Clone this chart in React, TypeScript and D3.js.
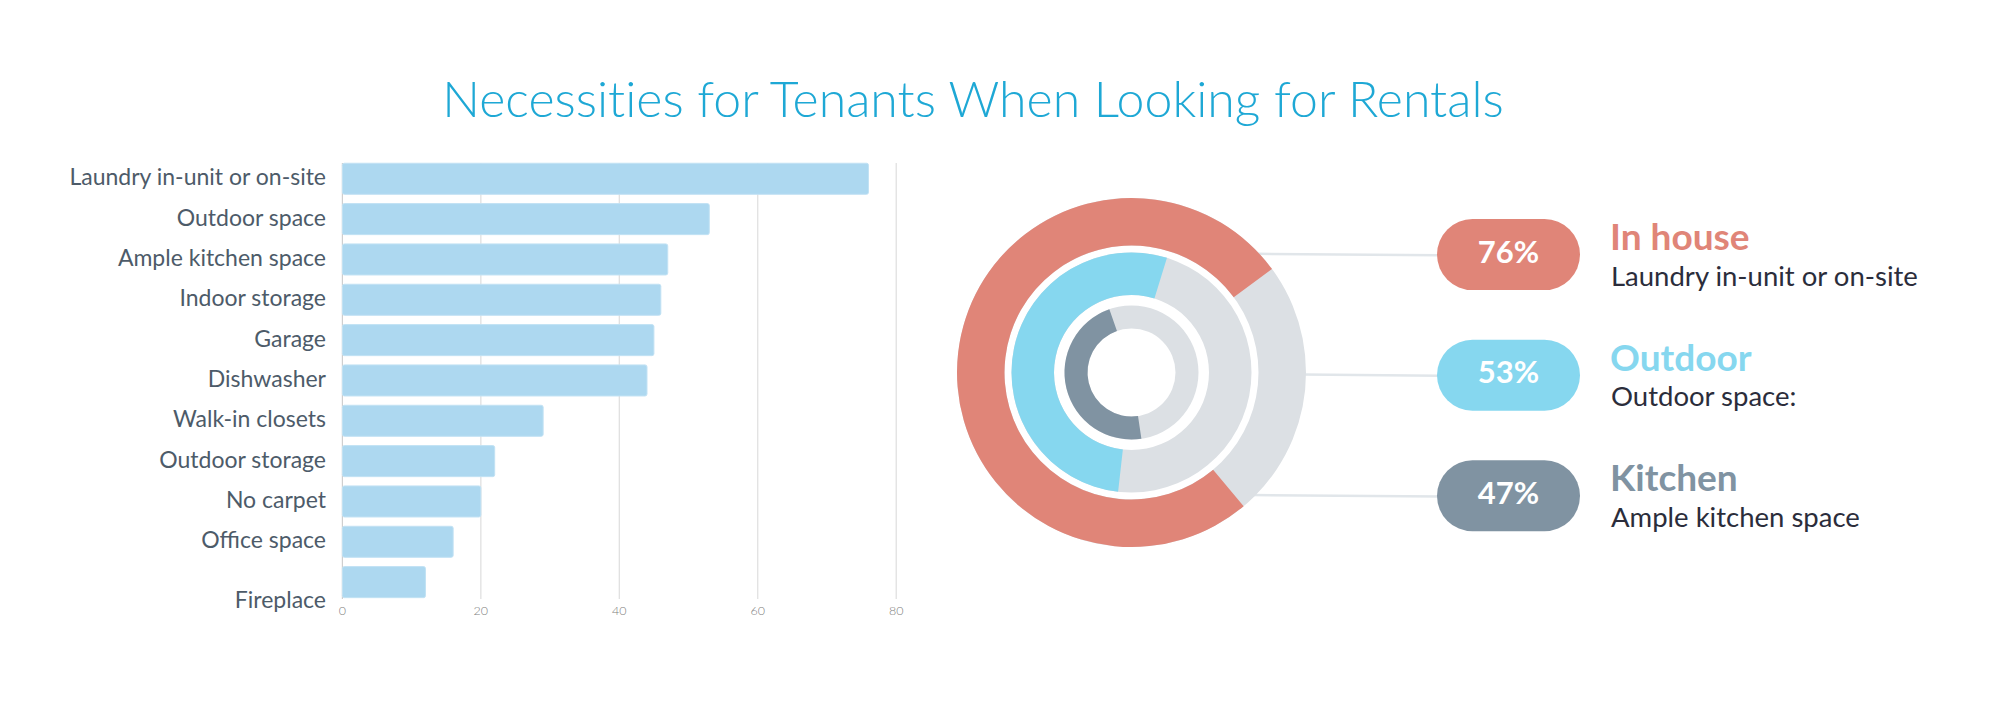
import React, { useEffect, useRef } from "react";
import * as d3 from "d3";

// bar chart data
const categories = [
  "Laundry in-unit or on-site",
  "Outdoor space",
  "Ample kitchen space",
  "Indoor storage",
  "Garage",
  "Dishwasher",
  "Walk-in closets",
  "Outdoor storage",
  "No carpet",
  "Office space",
  "Fireplace",
];
const values = [76, 53, 47, 46, 45, 44, 29, 22, 20, 16, 12];
const xTicks = [0, 20, 40, 60, 80];

// ring chart data
const ringNames = ["In house", "Outdoor", "Kitchen"];
const ringLabels = ["Laundry in-unit or on-site", "Outdoor space:", "Ample kitchen space"];
const ringPercents = [76, 53, 47];

const WIDTH = 1998;
const HEIGHT = 722;
const FONT = "Lato, 'Open Sans', sans-serif";

const ringColors = ["#e08578", "#86d7ef", "#8093a2"];
const trackColor = "#dce0e4";
const ringRadii = [
  [127, 174.5],
  [77.5, 120],
  [44, 67],
];
// where each coloured arc begins, degrees clockwise from 12 o'clock
const ringStart = [140, 186.4, 171.5];

const App: React.FC = () => {
  const svgRef = useRef<SVGSVGElement>(null);

  useEffect(() => {
    const svg = d3.select(svgRef.current);
    svg.selectAll("*").remove();

    // title
    svg
      .append("text")
      .attr("x", 973)
      .attr("y", 117)
      .attr("text-anchor", "middle")
      .attr("font-family", FONT)
      .attr("font-weight", 300)
      .attr("font-size", 50)
      .style("font-variant-ligatures", "none")
      .attr("fill", "#1ea8d5")
      .text("Necessities for Tenants When Looking for Rentals");

    // ---- horizontal bars ----
    const x = d3.scaleLinear().domain([0, 80]).range([342.4, 896.2]);
    const y = d3
      .scaleBand<string>()
      .domain(categories)
      .range([158.6, 602.3])
      .paddingInner(0.23)
      .paddingOuter(0.115);

    const barG = svg.append("g");

    // grid lines
    barG
      .selectAll("line.grid")
      .data(xTicks)
      .join("line")
      .attr("class", "grid")
      .attr("x1", d => x(d))
      .attr("x2", d => x(d))
      .attr("y1", 163)
      .attr("y2", 599)
      .attr("stroke", d => (d === 0 ? "#cfcfcf" : "#dedede"))
      .attr("stroke-width", 1.2);

    // tick labels
    barG
      .selectAll("text.tick")
      .data(xTicks)
      .join("text")
      .attr("class", "tick")
      .attr("x", d => x(d))
      .attr("y", 615)
      .attr("text-anchor", "middle")
      .attr("font-family", FONT)
      .attr("font-weight", 300)
      .attr("font-size", 12.5)
      .attr("fill", "#808080")
      .text(d => d);

    // bars
    barG
      .selectAll("rect.bar")
      .data(values)
      .join("rect")
      .attr("class", "bar")
      .attr("x", x(0))
      .attr("y", (d, i) => y(categories[i]) as number)
      .attr("width", d => x(d) - x(0))
      .attr("height", y.bandwidth())
      .attr("rx", 2)
      .attr("fill", "#add8f0")
      .attr("stroke", "#c2e2f4")
      .attr("stroke-width", 1);

    // category labels (Fireplace sits lower in the original)
    barG
      .selectAll("text.label")
      .data(categories)
      .join("text")
      .attr("class", "label")
      .attr("x", 326)
      .attr(
        "y",
        (d, i) => (y(d) as number) + y.bandwidth() / 2 + (i === categories.length - 1 ? 19 : 0)
      )
      .attr("dy", "0.28em")
      .attr("text-anchor", "end")
      .attr("font-family", FONT)
      .attr("font-size", 23)
      .attr("fill", "#4d5b69")
      .text(d => d);

    // ---- concentric rings ----
    const cx = 1131.5;
    const cy = 372.5;
    const rowY = d3.scalePoint<string>().domain(ringNames).range([254.6, 495.8]);
    const outerR = ringRadii[0][1];

    // connectors (behind the rings)
    svg
      .append("g")
      .selectAll("line")
      .data(ringNames)
      .join("line")
      .attr("x1", d => {
        const dy = (rowY(d) as number) - cy;
        return cx + Math.sqrt(outerR * outerR - dy * dy) - 3;
      })
      .attr("y1", d => (rowY(d) as number) - 0.8)
      .attr("x2", 1440)
      .attr("y2", d => (rowY(d) as number) + 0.6)
      .attr("stroke", "#e1e6ea")
      .attr("stroke-width", 2.5);

    const arc = d3.arc();
    const ringG = svg.append("g").attr("transform", `translate(${cx}, ${cy})`);

    ringPercents.forEach((p, i) => {
      const [r0, r1] = ringRadii[i];
      ringG
        .append("path")
        .attr(
          "d",
          arc({ innerRadius: r0, outerRadius: r1, startAngle: 0, endAngle: 2 * Math.PI }) as string
        )
        .attr("fill", trackColor);
      const start = (ringStart[i] * Math.PI) / 180;
      ringG
        .append("path")
        .attr(
          "d",
          arc({
            innerRadius: r0,
            outerRadius: r1,
            startAngle: start,
            endAngle: start + (p / 100) * 2 * Math.PI,
          }) as string
        )
        .attr("fill", ringColors[i]);
    });

    // ---- legend pills ----
    const legend = svg
      .append("g")
      .selectAll("g")
      .data(ringNames)
      .join("g")
      .attr("transform", d => `translate(0, ${rowY(d)})`);

    legend
      .append("rect")
      .attr("x", 1437)
      .attr("y", -35.5)
      .attr("width", 143)
      .attr("height", 71)
      .attr("rx", 35.5)
      .attr("fill", (d, i) => ringColors[i]);

    legend
      .append("text")
      .attr("x", 1508.5)
      .attr("y", 8)
      .attr("text-anchor", "middle")
      .attr("font-family", FONT)
      .attr("font-weight", 700)
      .attr("font-size", 31)
      .attr("fill", "#ffffff")
      .text((d, i) => `${ringPercents[i]}%`);

    legend
      .append("text")
      .attr("x", 1610)
      .attr("y", -4.6)
      .attr("font-family", FONT)
      .attr("font-weight", 700)
      .attr("font-size", 37)
      .attr("fill", (d, i) => ringColors[i])
      .text(d => d);

    legend
      .append("text")
      .attr("x", 1611)
      .attr("y", 31)
      .attr("font-family", FONT)
      .attr("font-size", 27.5)
      .attr("fill", "#2b2d3b")
      .text((d, i) => ringLabels[i]);
  }, []);

  return (
    <div style={{ position: "absolute", left: 0, top: 0 }}>
      <svg
        ref={svgRef}
        width={WIDTH}
        height={HEIGHT}
        viewBox={`0 0 ${WIDTH} ${HEIGHT}`}
        style={{ display: "block", background: "#ffffff" }}
      />
    </div>
  );
};

export default App;
